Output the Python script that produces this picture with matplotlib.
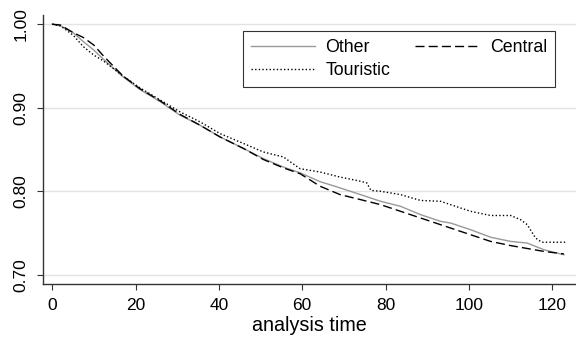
import matplotlib
matplotlib.use("Agg")
import matplotlib.pyplot as plt

plt.rcParams['font.family'] = ['Liberation Sans', 'DejaVu Sans']

# survival estimates
t_other = [0, 2, 5, 7.5, 10, 12.3, 17, 21, 26, 30.7, 35.5, 40.3, 46, 50.7, 55.5,
           59.5, 64.3, 69.1, 74, 78.8, 83.6, 88.4, 93.2, 95.6, 100.4, 105.2,
           110, 114, 118, 122.8]
s_other = [1.0, 0.998, 0.99, 0.979, 0.969, 0.958, 0.937, 0.922, 0.907, 0.891,
           0.879, 0.865, 0.851, 0.839, 0.829, 0.822, 0.8115, 0.804, 0.796,
           0.788, 0.782, 0.772, 0.764, 0.762, 0.754, 0.745, 0.740, 0.738,
           0.730, 0.724]

t_central = [0, 2, 5, 7.5, 10, 12.3, 17, 21, 26, 30.7, 35.5, 40.3, 46, 50.7,
             55.5, 59.5, 64.3, 69.1, 74, 78.8, 83.6, 88.4, 93.2, 100.4, 105.2,
             110, 118, 122.8]
s_central = [1.0, 0.999, 0.990, 0.984, 0.975, 0.962, 0.938, 0.923, 0.908,
             0.892, 0.879, 0.865, 0.851, 0.838, 0.828, 0.821, 0.806, 0.796,
             0.790, 0.784, 0.776, 0.768, 0.760, 0.748, 0.740, 0.735, 0.728,
             0.725]

t_tour = [0, 2, 5, 7.5, 10, 12.3, 17, 21, 26, 30.7, 35.5, 40.3, 46, 50.7, 55.5,
          59.5, 64.3, 69.1, 74, 75.5, 76.5, 78.8, 83.6, 88.4, 93.2, 95.6,
          100.4, 105.2, 110, 112.4, 114, 116, 117.5, 123.1]
s_tour = [1.0, 0.998, 0.987, 0.973, 0.963, 0.956, 0.938, 0.924, 0.909, 0.895,
          0.883, 0.869, 0.857, 0.847, 0.841, 0.827, 0.823, 0.817, 0.812, 0.810,
          0.801, 0.800, 0.796, 0.789, 0.788, 0.784, 0.776, 0.771, 0.771, 0.766,
          0.760, 0.744, 0.739, 0.739]

xticks = [0, 20, 40, 60, 80, 100, 120]
yticks = [0.70, 0.80, 0.90, 1.00]

fig = plt.figure(figsize=(5.76, 3.42), dpi=100)
ax = fig.add_axes([43 / 576, 1 - 284 / 342, 533 / 576, 269 / 342])

ax.plot(t_other, s_other, color='#999999', lw=1.0, label='Other')
ax.plot(t_tour, s_tour, color='black', lw=1.0, dashes=(1, 1.6), label='Touristic')
ax.plot(t_central, s_central, color='black', lw=1.0, dashes=(6.5, 3), label='Central')

ax.set_xlim(-2.2, 125.7)
ax.set_ylim(0.689, 1.011)
ax.set_xticks(xticks)
ax.set_yticks(yticks)
ax.set_yticklabels(['%.2f' % v for v in yticks], rotation=90, va='center')
ax.grid(axis='y', color='#e3e3e3', lw=1.0)
ax.set_axisbelow(True)

for side in ['top', 'right']:
    ax.spines[side].set_visible(False)
for side in ['left', 'bottom']:
    ax.spines[side].set_color('#333333')
    ax.spines[side].set_linewidth(1.0)
ax.tick_params(direction='out', length=4.3, width=0.8, color='#333333',
               labelsize=12.5, pad=6)
ax.set_xlabel('analysis time', fontsize=14.2, labelpad=2)

leg = ax.legend(ncol=2, loc='upper left',
                bbox_to_anchor=(242.7 / 576, 1 - 31 / 342),
                bbox_transform=fig.transFigure, frameon=True, fancybox=False,
                fontsize=12.8, handlelength=3.6, handletextpad=0.6,
                columnspacing=1.4, labelspacing=0.35, borderpad=0.45,
                borderaxespad=0)
leg.get_frame().set_edgecolor('black')
leg.get_frame().set_linewidth(0.8)

fig.savefig('out.png', dpi=100)
